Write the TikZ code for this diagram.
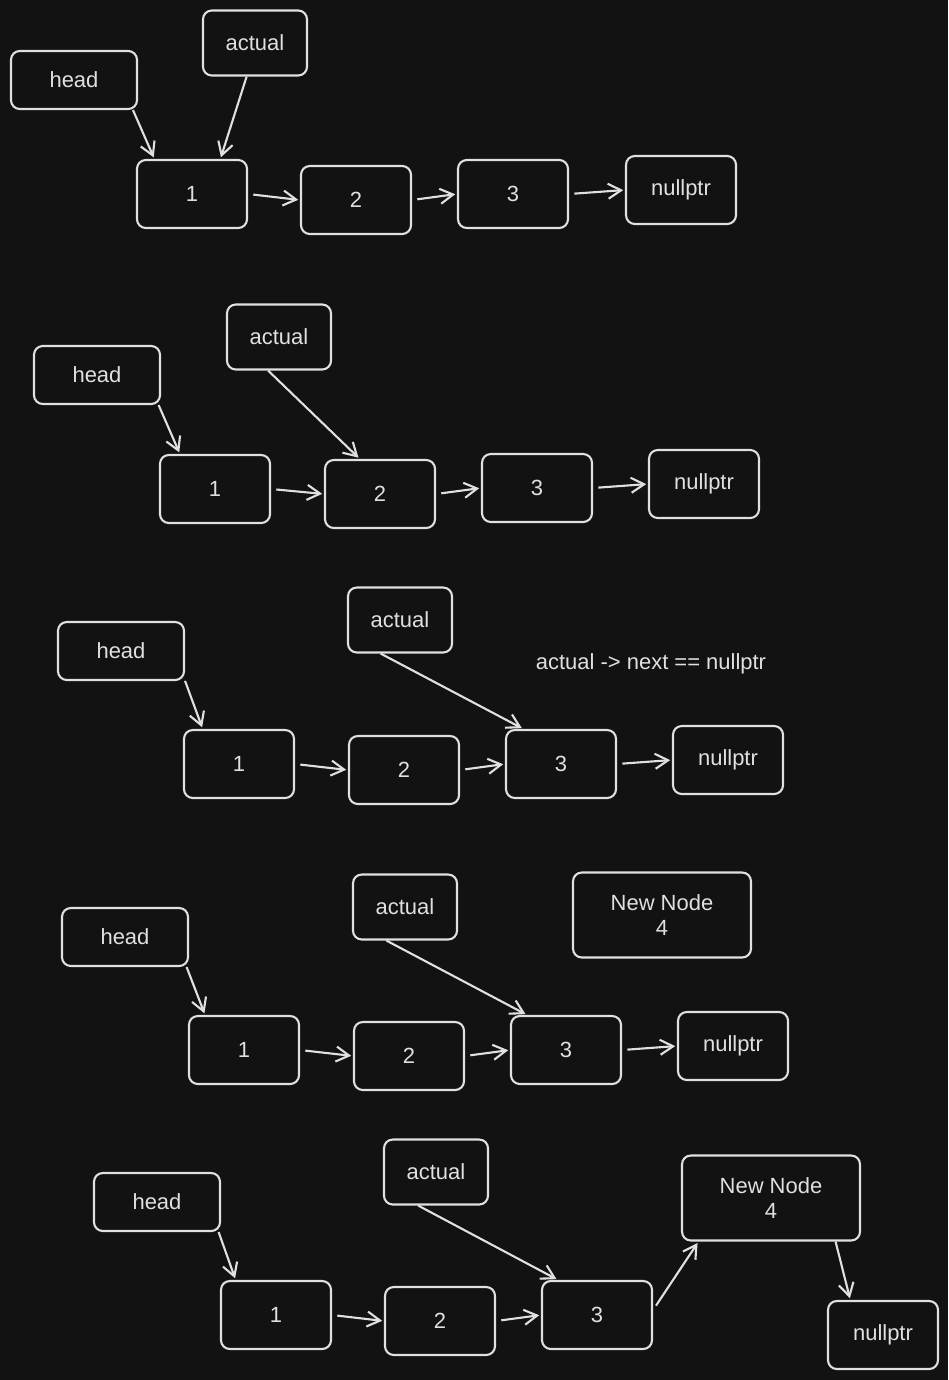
\documentclass[tikz,border=0pt]{standalone}
\usepackage{fontspec}
\setmainfont{Liberation Sans}
\usepackage{tikz}
\usepackage{xcolor}
\usetikzlibrary{arrows.meta, positioning}
\definecolor{canvas}{HTML}{121212}
\definecolor{ink}{HTML}{E0E0E0}

\begin{document}
\begin{tikzpicture}[
    x=0.02cm, y=-0.02cm,
    cell/.style={rectangle, draw=ink, line width=1.2pt, rounded corners=5pt, text=ink, align=center, font=\fontsize{12.5}{14}\selectfont, inner sep=0pt},
    item/.style={cell, minimum width=2.2cm, minimum height=1.36cm},
    headbox/.style={cell, minimum width=2.52cm, minimum height=1.16cm},
    actbox/.style={cell, minimum width=2.08cm, minimum height=1.3cm},
    newbox/.style={cell, minimum width=3.56cm, minimum height=1.7cm},
    link/.style={-{Straight Barb[length=2.6mm, width=3mm]}, line width=1.2pt, draw=ink, shorten <=3pt, shorten >=1pt},
    pointer/.style={link, shorten <=0pt}
]
    % Canvas
    \fill[canvas] (0,0) rectangle (948,1380);

    % Step 1
    \node[headbox] (head1) at (74,80) {head};
    \node[actbox] (actual1) at (255,43) {actual};
    \node[item] (one1) at (192,194) {1};
    \node[item] (two1) at (356,200) {2};
    \node[item] (three1) at (513,194) {3};
    \node[item] (null1) at (681,190) {nullptr};
    \draw[pointer] (head1.-27) -- (one1.137);
    \draw[pointer] (actual1.256) -- (one1.51);
    \draw[link] (one1.east) -- (two1.west);
    \draw[link] (two1.east) -- (three1.west);
    \draw[link] (three1.east) -- (null1.west);

    % Step 2
    \node[headbox] (head2) at (97,375) {head};
    \node[actbox] (actual2) at (279,337) {actual};
    \node[item] (one2) at (215,489) {1};
    \node[item] (two2) at (380,494) {2};
    \node[item] (three2) at (537,488) {3};
    \node[item] (null2) at (704,484) {nullptr};
    \draw[pointer] (head2.-26) -- (one2.135);
    \draw[pointer] (actual2.252) -- (two2.120);
    \draw[link] (one2.east) -- (two2.west);
    \draw[link] (two2.east) -- (three2.west);
    \draw[link] (three2.east) -- (null2.west);

    % Step 3
    \node[headbox] (head3) at (121,651) {head};
    \node[actbox] (actual3) at (400,620) {actual};
    \node[item] (one3) at (239,764) {1};
    \node[item] (two3) at (404,770) {2};
    \node[item] (three3) at (561,764) {3};
    \node[item] (null3) at (728,760) {nullptr};
    \node[text=ink, font=\fontsize{12.5}{14}\selectfont] (note3) at (651,664) {actual -> next == nullptr};
    \draw[pointer] (head3.-25) -- (one3.136);
    \draw[pointer] (actual3.240) -- (three3.137);
    \draw[link] (one3.east) -- (two3.west);
    \draw[link] (two3.east) -- (three3.west);
    \draw[link] (three3.east) -- (null3.west);

    % Step 4
    \node[headbox] (head4) at (125,937) {head};
    \node[actbox] (actual4) at (405,907) {actual};
    \node[newbox] (new4) at (662,915) {New Node\\4};
    \node[item] (one4) at (244,1050) {1};
    \node[item] (two4) at (409,1056) {2};
    \node[item] (three4) at (566,1050) {3};
    \node[item] (null4) at (733,1046) {nullptr};
    \draw[pointer] (head4.-26) -- (one4.138);
    \draw[pointer] (actual4.241) -- (three4.138);
    \draw[link] (one4.east) -- (two4.west);
    \draw[link] (two4.east) -- (three4.west);
    \draw[link] (three4.east) -- (null4.west);

    % Step 5
    \node[headbox] (head5) at (157,1202) {head};
    \node[actbox] (actual5) at (436,1172) {actual};
    \node[newbox] (new5) at (771,1198) {New Node\\4};
    \node[item] (one5) at (276,1315) {1};
    \node[item] (two5) at (440,1321) {2};
    \node[item] (three5) at (597,1315) {3};
    \node[item] (null5) at (883,1335) {nullptr};
    \draw[pointer] (head5.-26) -- (one5.139);
    \draw[pointer] (actual5.242) -- (three5.138);
    \draw[link] (one5.east) -- (two5.west);
    \draw[link] (two5.east) -- (three5.west);
    \draw[link] (three5.5) -- (new5.211);
    \draw[pointer] (new5.-34) -- (null5.133);

\end{tikzpicture}
\end{document}
